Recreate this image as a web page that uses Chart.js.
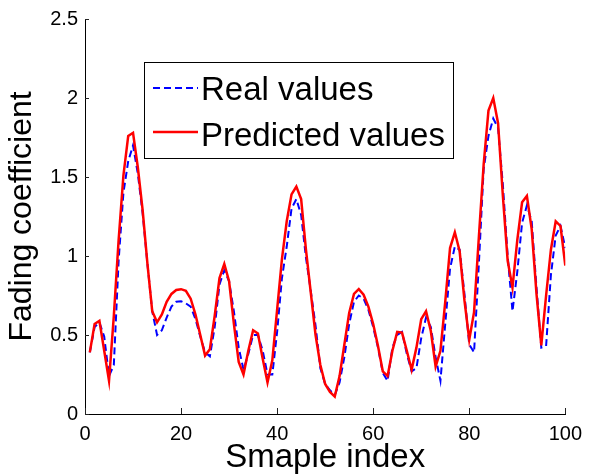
<!DOCTYPE html>
<html>
<head>
<meta charset="utf-8">
<script src="https://cdn.jsdelivr.net/npm/chart.js@4/dist/chart.umd.min.js"></script>
<style>
  body { margin: 0; background: #fff; }
  #wrap { width: 590px; height: 474px; }
</style>
</head>
<body>
<div id="wrap"><canvas id="myChart" width="590" height="474"></canvas></div>
<script>
// sample index 1..100
let sampleIndex = [];
for (let i = 1; i <= 100; i++) sampleIndex.push(i);

const realValues = [
  0.39, 0.55, 0.58, 0.49, 0.24, 0.31, 0.97, 1.40, 1.60, 1.70,
  1.52, 1.27, 0.95, 0.65, 0.50, 0.53, 0.61, 0.68, 0.71, 0.714,
  0.70, 0.68, 0.60, 0.49, 0.39, 0.365, 0.55, 0.82, 0.91, 0.84,
  0.65, 0.42, 0.28, 0.38, 0.50, 0.50, 0.40, 0.25, 0.25, 0.52,
  0.86, 1.06, 1.30, 1.36, 1.26, 0.99, 0.78, 0.56, 0.29, 0.19,
  0.15, 0.12, 0.20, 0.36, 0.57, 0.71, 0.75, 0.73, 0.66, 0.55,
  0.42, 0.26, 0.21, 0.42, 0.50, 0.52, 0.38, 0.27, 0.29, 0.48,
  0.61, 0.55, 0.36, 0.21, 0.57, 0.92, 1.06, 1.04, 0.76, 0.44,
  0.39, 0.95, 1.55, 1.76, 1.87, 1.81, 1.45, 1.00, 0.65, 0.90,
  1.21, 1.32, 1.22, 0.80, 0.42, 0.43, 0.88, 1.13, 1.19, 1.05
];

const predictedValues = [
  0.39, 0.57, 0.59, 0.40, 0.21, 0.62, 1.10, 1.51, 1.76, 1.78,
  1.56, 1.29, 0.95, 0.65, 0.58, 0.63, 0.71, 0.76, 0.785, 0.79,
  0.78, 0.73, 0.63, 0.50, 0.37, 0.41, 0.62, 0.86, 0.95, 0.84,
  0.57, 0.33, 0.25, 0.40, 0.53, 0.51, 0.35, 0.20, 0.34, 0.66,
  0.98, 1.22, 1.39, 1.44, 1.36, 1.04, 0.77, 0.50, 0.31, 0.19,
  0.14, 0.11, 0.24, 0.44, 0.64, 0.76, 0.79, 0.755, 0.68, 0.57,
  0.43, 0.27, 0.24, 0.40, 0.52, 0.515, 0.40, 0.28, 0.42, 0.60,
  0.65, 0.525, 0.30, 0.40, 0.71, 1.05, 1.15, 1.03, 0.72, 0.47,
  0.645, 1.12, 1.58, 1.92, 2.00, 1.84, 1.38, 0.97, 0.80, 1.10,
  1.34, 1.38, 1.17, 0.76, 0.435, 0.75, 1.04, 1.22, 1.19, 0.94
];

const xTicks = [0, 20, 40, 60, 80, 100];
const xTickLabels = ['0', '20', '40', '60', '80', '100'];
const yTicks = [0, 0.5, 1, 1.5, 2, 2.5];
const yTickLabels = ['0', '0.5', '1', '1.5', '2', '2.5'];

const FONT = "'Liberation Sans', Arial, sans-serif";
Chart.defaults.font.family = FONT;
Chart.defaults.color = '#000';

// MATLAB style ticks pointing into the plot
const inwardTicks = {
  id: 'inwardTicks',
  afterDraw(chart) {
    const c = chart.ctx;
    const xs = chart.scales.x, ys = chart.scales.y;
    const area = chart.chartArea;
    c.save();
    c.strokeStyle = '#222';
    c.lineWidth = 1;
    c.beginPath();
    xTicks.forEach(v => {
      const px = Math.round(xs.getPixelForValue(v)) + 0.5;
      c.moveTo(px, area.bottom);
      c.lineTo(px, area.bottom - 6);
    });
    yTicks.forEach(v => {
      const py = Math.round(ys.getPixelForValue(v)) + 0.5;
      c.moveTo(area.left, py);
      c.lineTo(area.left + 4, py);
    });
    c.stroke();
    c.restore();
  }
};

// legend box in the upper left of the axes
const boxLegend = {
  id: 'boxLegend',
  afterDatasetsDraw(chart) {
    const c = chart.ctx;
    c.save();
    c.fillStyle = '#fff';
    c.fillRect(144, 62, 309, 96);
    c.strokeStyle = '#000';
    c.lineWidth = 1;
    c.strokeRect(144.5, 62.5, 309, 96);
    const rows = [
      { ds: chart.data.datasets[0], y: 88, base: 100 },
      { ds: chart.data.datasets[1], y: 132, base: 145.5 }
    ];
    rows.forEach(r => {
      c.beginPath();
      c.strokeStyle = r.ds.borderColor;
      c.lineWidth = r.ds.borderWidth;
      c.setLineDash(r.ds.borderDash || []);
      c.moveTo(153, r.y);
      c.lineTo(198, r.y);
      c.stroke();
      c.setLineDash([]);
      c.fillStyle = '#000';
      c.font = '33px ' + FONT;
      c.textBaseline = 'alphabetic';
      c.fillText(r.ds.label, 201, r.base);
    });
    c.restore();
  }
};

let ctx = document.getElementById('myChart');
let myChart = new Chart(ctx, {
  type: 'line',
  data: {
    datasets: [
      {
        label: 'Real values',
        data: sampleIndex.map((x, i) => ({ x: x, y: realValues[i] })),
        borderColor: '#0000ff',
        borderWidth: 2,
        borderDash: [7, 4],
        pointRadius: 0,
        tension: 0,
        fill: false,
        order: 1
      },
      {
        label: 'Predicted values',
        data: sampleIndex.map((x, i) => ({ x: x, y: predictedValues[i] })),
        borderColor: '#ff0000',
        borderWidth: 2.5,
        pointRadius: 0,
        tension: 0,
        fill: false,
        order: 0
      }
    ]
  },
  options: {
    responsive: false,
    animation: false,
    layout: { padding: { top: 18, right: 22, left: 0, bottom: 0 } },
    plugins: {
      legend: { display: false },
      tooltip: { enabled: false }
    },
    scales: {
      x: {
        type: 'linear',
        min: 0,
        max: 100,
        afterBuildTicks: s => { s.ticks = xTicks.map(v => ({ value: v })); },
        afterFit: s => { s.height = 60; },
        grid: { display: false, drawTicks: false },
        border: { display: true, color: '#000', width: 1 },
        ticks: {
          font: { size: 20 }, color: '#000', padding: 8, maxRotation: 0,
          callback: (v, i) => xTickLabels[i]
        },
        title: {
          display: true,
          text: 'Smaple index',
          color: '#000',
          font: { size: 33, lineHeight: 1 },
          padding: 0
        }
      },
      y: {
        min: 0,
        max: 2.5,
        afterBuildTicks: s => { s.ticks = yTicks.map(v => ({ value: v })); },
        afterFit: s => { s.width = 85; },
        grid: { display: false, drawTicks: false },
        border: { display: true, color: '#000', width: 1 },
        ticks: {
          font: { size: 20 }, color: '#000', padding: 7,
          callback: (v, i) => yTickLabels[i]
        },
        title: {
          display: true,
          text: 'Fading coefficient',
          color: '#000',
          font: { size: 32, lineHeight: 1 },
          padding: { top: 6, bottom: 0 }
        }
      }
    }
  },
  plugins: [inwardTicks, boxLegend]
});
</script>
</body>
</html>
